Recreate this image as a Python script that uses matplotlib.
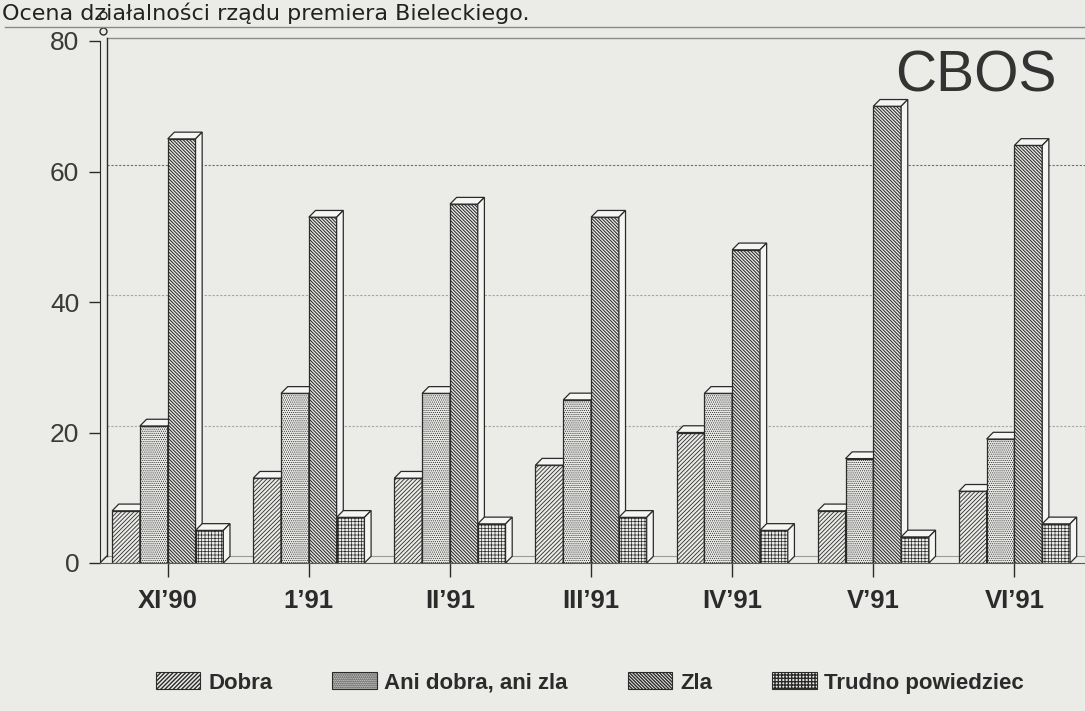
import numpy as np
import matplotlib
matplotlib.use("Agg")
import matplotlib.pyplot as plt
from matplotlib.patches import Polygon, Patch
from matplotlib.lines import Line2D

# survey months and answer shares (%)
months = ["XI’90", "1’91", "II’91", "III’91", "IV’91", "V’91", "VI’91"]
dobra = [8, 13, 13, 15, 20, 8, 11]
ani_dobra_ani_zla = [21, 26, 26, 25, 26, 16, 19]
zla = [65, 53, 55, 53, 48, 70, 64]
trudno = [5, 7, 6, 7, 5, 4, 6]
answer_labels = ["Dobra", "Ani dobra, ani zla", "Zla", "Trudno powiedziec"]
yticks = [0, 20, 40, 60, 80]

series = [dobra, ani_dobra_ani_zla, zla, trudno]
hatches = ["////////", "........", "\\" * 10, "+++++"]
hatch_lw = [0.6, 0.5, 0.75, 0.5]

plt.rcParams["font.family"] = ["Liberation Sans", "DejaVu Sans"]

bg = "#ebebe8"
ink = "#2b2b2b"
face = "#f5f5f3"

fig = plt.figure(figsize=(10.85, 7.11), dpi=100, facecolor=bg)
ax = fig.add_axes([100 / 1085, 148 / 711, 985 / 1085, 522 / 711], facecolor=bg)
x0, x1 = -0.48, 6.5
ax.set_xlim(x0, x1)
ax.set_ylim(0, 80)

w = 0.197             # bar width
dx, dy = 0.047, 1.03  # 3d depth offset
x = np.arange(len(months))

# back wall grid lines
for v in yticks[1:]:
    if v == 80:
        ax.plot([x0 + dx, x1], [v + dy * 0.5] * 2, color="#8c8c8c", lw=1.0, zorder=1, clip_on=False)
    else:
        col = "#6e6e6e" if v == 60 else "#a5a5a5"
        ax.plot([x0 + dx, x1], [v + dy] * 2, color=col, lw=0.8, ls=(0, (2, 1.5)), zorder=1)
ax.plot([x0 + dx, x1], [dy, dy], color="#9a9a9a", lw=0.8, zorder=1)

# wall of the y axis
ax.plot([x0 + dx] * 2, [dy, 80.5], color=ink, lw=1.0, zorder=2, clip_on=False)
ax.plot([x0, x0 + dx], [0, dy], color=ink, lw=1.0, zorder=2)
ax.plot([x0 + dx * 0.5] * 2, [81.6, 84.0], "o", mfc=bg, mec=ink, ms=5, mew=1.0, clip_on=False, zorder=2)

handles = []
for j, vals in enumerate(series):
    lefts = x + (j - 2) * w
    zo = 3 + j
    with plt.rc_context({"hatch.linewidth": hatch_lw[j]}):
        ax.bar(lefts, vals, width=w, align="edge", facecolor=bg, edgecolor=ink,
               hatch=hatches[j], lw=0.9, zorder=zo)
        handles.append(Patch(facecolor=bg, edgecolor=ink, hatch=hatches[j], lw=0.8))
    for left, v in zip(lefts, vals):
        r = left + w
        ax.add_patch(Polygon([(left, v), (left + dx, v + dy), (r + dx, v + dy), (r, v)],
                             closed=True, fc=face, ec=ink, lw=0.9, zorder=zo))
        ax.add_patch(Polygon([(r, 0), (r, v), (r + dx, v + dy), (r + dx, dy)],
                             closed=True, fc=face, ec=ink, lw=0.9, zorder=zo))

for s in ["top", "right"]:
    ax.spines[s].set_visible(False)
ax.spines["left"].set_color(ink)
ax.spines["bottom"].set_color("#5a5a5a")

ax.set_yticks(yticks)
ax.tick_params(axis="y", length=8, width=1, pad=7, labelsize=19, colors=ink, labelcolor="#3a3a3a")
ax.set_xticks(x, months)
ax.tick_params(axis="x", length=10, width=1, pad=9, colors=ink, labelsize=18.5)
for t in ax.get_xticklabels():
    t.set_fontweight("bold")

fig.text(895 / 1085, (711 - 76) / 711, "CBOS", fontsize=41, color="#333333", va="center", ha="left")
fig.text(0.002, (711 - 20) / 711, "Ocena działalności rządu premiera Bieleckiego.",
         fontsize=16, family=["DejaVu Sans"], color="#222222", va="baseline")
fig.add_artist(Line2D([5 / 1085, 1], [684 / 711, 684 / 711], color="#8a8a8a", lw=1.0))

fig.legend(handles, answer_labels, loc="center", bbox_to_anchor=(590 / 1085, 28 / 711),
           ncol=4, frameon=False, prop=dict(weight="bold", size=16), labelcolor=ink,
           handlelength=2.0, handleheight=0.8, handletextpad=0.35, columnspacing=2.7)

fig.savefig("out.png", dpi=100, facecolor=bg)
